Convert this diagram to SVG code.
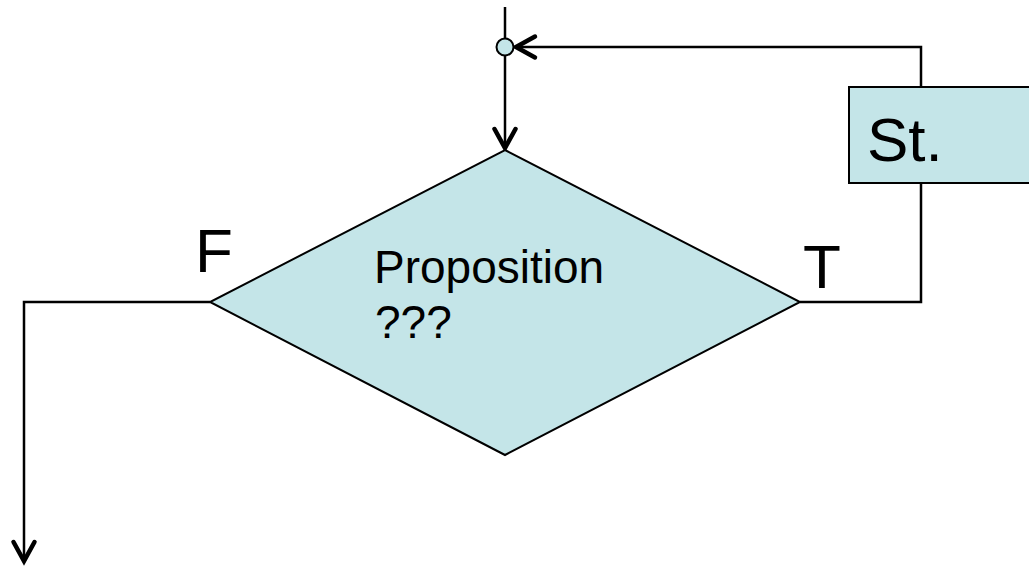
<svg xmlns="http://www.w3.org/2000/svg" width="1029" height="568" viewBox="0 0 1029 568">
  <style>
    .shape { fill: #C4E5E8; stroke: #000; stroke-width: 2; }
    .line { fill: none; stroke: #000; stroke-width: 2.5; }
    .lbl { font-family: "Liberation Sans", Arial, sans-serif; fill: #000; }
  </style>
  <defs>
    <marker id="arrow" markerUnits="userSpaceOnUse" viewBox="-24 -14 28 28" markerWidth="28" markerHeight="28" refX="0" refY="0" orient="auto" overflow="visible">
      <path d="M-19,-10.5 L0,0 L-19,10.5" fill="none" stroke="#000" stroke-width="4.5" stroke-linecap="round" stroke-linejoin="miter"/>
    </marker>
  </defs>
  <rect width="1029" height="568" fill="#fff"/>

  <g id="connectors">
    <path class="line" d="M505,7 L505,38"/>
    <path class="line" d="M505,55.5 L505,148" marker-end="url(#arrow)"/>
    <path class="line" d="M800,302 L921,302 L921,47 L516,47" marker-end="url(#arrow)"/>
    <path class="line" d="M210,302 L24,302 L24,561" marker-end="url(#arrow)"/>
  </g>

  <g id="junction">
    <circle class="shape" cx="505" cy="47" r="8.5"/>
  </g>

  <g id="decision">
    <polygon class="shape" points="505,150 800,302 505,455 210,302"/>
    <text class="lbl" x="374" y="283" font-size="46">Proposition</text>
    <text class="lbl" x="375" y="338" font-size="46">???</text>
  </g>

  <g id="statement">
    <rect class="shape" x="849" y="87" width="190" height="96"/>
    <text class="lbl" x="867" y="161" font-size="62">St.</text>
  </g>

  <g id="label-F">
    <text class="lbl" x="195" y="272" font-size="62">F</text>
  </g>
  <g id="label-T">
    <text class="lbl" x="803" y="288" font-size="62">T</text>
  </g>
</svg>
